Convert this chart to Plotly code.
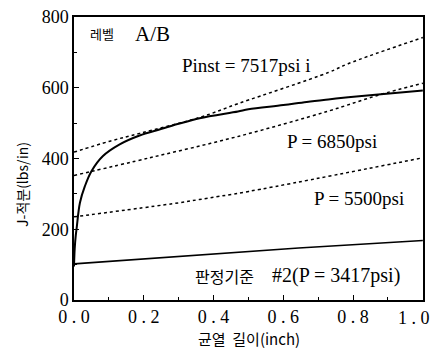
import plotly.graph_objects as go

# J-R curve (material resistance)
jr_x = [0.0, 0.002, 0.005, 0.0077, 0.017, 0.031, 0.05, 0.083, 0.131, 0.188, 0.245, 0.3, 0.36, 0.47, 0.5, 0.6, 0.667, 0.729, 0.786, 0.872, 1.0]
jr_y = [95, 145, 182, 204, 275, 321, 364, 407, 440, 465, 482, 498, 514, 533, 539, 551, 560, 567, 573, 581, 592]

# Applied J lines
crack_x = [0.0, 0.103, 0.188, 0.36, 0.473, 0.729, 0.786, 1.0]
p7517_y = [418, 449, 471, 516, 556, 643, 668, 742]

p6850_x = [0.0, 0.217, 0.473, 0.729, 0.872, 1.0]
p6850_y = [352, 402, 463, 534, 579, 613]

p5500_x = [0.0, 0.302, 0.359, 0.501, 1.0]
p5500_y = [235, 275, 284, 307, 402]

p3417_x = [0.0, 0.644, 1.0]
p3417_y = [102, 147, 168]

x_tickvals = [0.0, 0.2, 0.4, 0.6, 0.8, 1.0]
x_ticktext = ["0 . 0", "0 . 2", "0 . 4", "0 . 6", "0 . 8", ""]
last_x_label = "1 . 0"
y_tickvals = [0, 200, 400, 600, 800]
y_ticktext = ["0", "200", "400", "600", "800"]

serif = "Liberation Serif"
kr = "Noto Sans CJK KR"

fig = go.Figure()
dot = dict(color="black", width=1.5, dash="dot", shape="spline")
fig.add_trace(go.Scatter(x=crack_x, y=p7517_y, mode="lines", line=dot))
fig.add_trace(go.Scatter(x=p6850_x, y=p6850_y, mode="lines", line=dot))
fig.add_trace(go.Scatter(x=p5500_x, y=p5500_y, mode="lines", line=dot))
fig.add_trace(go.Scatter(x=p3417_x, y=p3417_y, mode="lines",
                         line=dict(color="black", width=1.6)))
fig.add_trace(go.Scatter(x=jr_x, y=jr_y, mode="lines",
                         line=dict(color="black", width=2, shape="spline")))

anns = [
    dict(x=0.04, y=752, text="레벨", font=dict(family=kr, size=13, color="black")),
    dict(x=0.169, y=752, text="A/B", font=dict(family=serif, size=21, color="black")),
    dict(x=0.304, y=664, text="Pinst = 7517psi i", font=dict(family=serif, size=19, color="black")),
    dict(x=0.605, y=447, text="P = 6850psi", font=dict(family=serif, size=19, color="black")),
    dict(x=0.682, y=288, text="P = 5500psi", font=dict(family=serif, size=19, color="black")),
    dict(x=0.341, y=68, text="판정기준", font=dict(family=kr, size=16, color="black")),
    dict(x=0.562, y=68, text="#2(P = 3417psi)", font=dict(family=serif, size=20, color="black")),
]
annotations = []
for a in anns:
    a.update(xref="x", yref="y", xanchor="left", yanchor="middle", showarrow=False)
    annotations.append(a)

# last x tick label, right-aligned so it stays inside the picture
annotations.append(dict(xref="paper", yref="paper", x=1.026, y=-0.062, text=last_x_label,
                        showarrow=False, xanchor="right", yanchor="middle",
                        font=dict(family=serif, size=18, color="black")))
annotations.append(dict(xref="paper", yref="paper", x=-0.149, y=0.41, text="J-적분(lbs/in)",
                        textangle=-90, showarrow=False, xanchor="center", yanchor="middle",
                        font=dict(family=kr, size=14, color="black")))
annotations.append(dict(xref="paper", yref="paper", x=0.5, y=-0.135, text="균열  길이(inch)",
                        showarrow=False, xanchor="center", yanchor="middle",
                        font=dict(family=kr, size=15, color="black")))

fig.update_layout(
    width=433, height=348,
    margin=dict(l=74, r=10, t=17, b=48, autoexpand=False),
    paper_bgcolor="white", plot_bgcolor="white",
    showlegend=False,
    annotations=annotations,
)
fig.update_xaxes(range=[0, 1.0005], tickvals=x_tickvals, ticktext=x_ticktext,
                 ticks="inside", ticklen=5, tickcolor="black", tickwidth=1,
                 minor=dict(dtick=0.1, ticks="inside", ticklen=3, tickcolor="black"),
                 showline=True, linecolor="black", linewidth=1.5, mirror=True,
                 showgrid=False, zeroline=False, automargin=False,
                 tickfont=dict(family=serif, size=18, color="black"))
fig.update_yaxes(range=[0, 800], tickvals=y_tickvals, ticktext=y_ticktext,
                 ticks="inside", ticklen=5, tickcolor="black", tickwidth=1,
                 minor=dict(dtick=100, ticks="inside", ticklen=3, tickcolor="black"),
                 showline=True, linecolor="black", linewidth=1.5, mirror=True,
                 showgrid=False, zeroline=False, automargin=False,
                 tickfont=dict(family=serif, size=18, color="black"))

fig.write_html("out.html")
